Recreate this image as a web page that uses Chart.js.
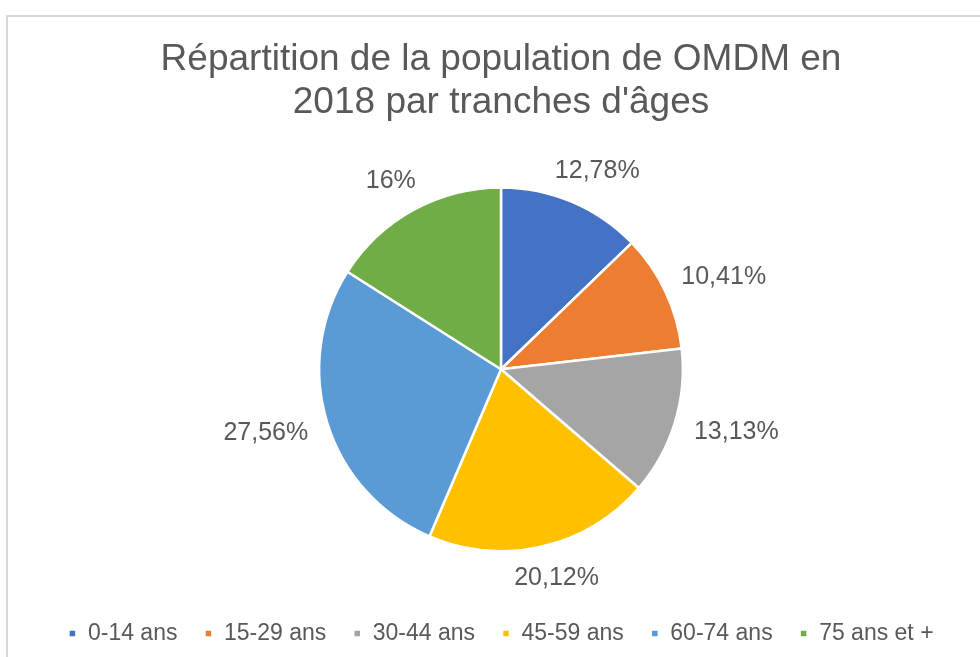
<!DOCTYPE html>
<html>
<head>
<meta charset="utf-8">
<script src="https://cdn.jsdelivr.net/npm/chart.js@4"></script>
<style>
  html, body { margin: 0; padding: 0; background: #fff; overflow: hidden; }
  #frame {
    position: absolute; left: 6px; top: 15px;
    width: 1000px; height: 700px;
    border: 2px solid #d9d9d9;
  }
  #wrap { position: absolute; left: 0; top: 0; width: 980px; height: 657px; }
</style>
</head>
<body>
<div id="frame"></div>
<div id="wrap"><canvas id="pie" width="980" height="657"></canvas></div>
<script>
const categories = ["0-14 ans", "15-29 ans", "30-44 ans", "45-59 ans", "60-74 ans", "75 ans et +"]
const shares = [12.78, 10.41, 13.13, 20.12, 27.56, 16]
const shareLabels = ["12,78%", "10,41%", "13,13%", "20,12%", "27,56%", "16%"]
const sliceColors = ["#4472C4", "#ED7D31", "#A5A5A5", "#FFC000", "#5B9BD5", "#70AD47"]

const textColor = "#595959"
const fontFamily = "'Liberation Sans', Arial, sans-serif"

// labels outside the pie, box touching the circle along the slice mid angle
const outsideLabels = {
  id: "outsideLabels",
  afterDatasetsDraw(chart) {
    const ctx = chart.ctx
    const meta = chart.getDatasetMeta(0)
    ctx.save()
    ctx.font = `25px ${fontFamily}`
    ctx.fillStyle = textColor
    ctx.textAlign = "center"
    ctx.textBaseline = "middle"
    meta.data.forEach((arc, i) => {
      const mid = (arc.startAngle + arc.endAngle) / 2
      const dx = Math.cos(mid)
      const dy = Math.sin(mid)
      const r = arc.outerRadius + 22
      const text = shareLabels[i]
      const w = ctx.measureText(text).width
      const h = 22
      const x = arc.x + dx * r + dx * w / 2
      const y = arc.y + dy * r + dy * h / 2
      ctx.fillText(text, x, y)
    })
    ctx.restore()
  }
}

new Chart(document.getElementById("pie"), {
  type: "pie",
  data: {
    labels: categories,
    datasets: [
      {
        data: shares,
        backgroundColor: sliceColors,
        borderColor: "#ffffff",
        borderWidth: 2.5,
        radius: "81%"
      }
    ]
  },
  options: {
    responsive: false,
    animation: false,
    layout: {
      padding: { left: 22, right: 0, top: 18, bottom: 2 }
    },
    plugins: {
      title: {
        display: true,
        text: ["Répartition de la population de OMDM en", "2018 par tranches d'âges"],
        color: textColor,
        font: { family: fontFamily, size: 37, weight: "normal", lineHeight: 1.162 },
        padding: { top: 20.5, bottom: 19 }
      },
      legend: {
        position: "bottom",
        labels: {
          color: textColor,
          font: { family: fontFamily, size: 23 },
          boxWidth: 8,
          boxHeight: 8,
          padding: 27
        }
      },
      tooltip: { enabled: false }
    }
  },
  plugins: [outsideLabels]
})
</script>
</body>
</html>
